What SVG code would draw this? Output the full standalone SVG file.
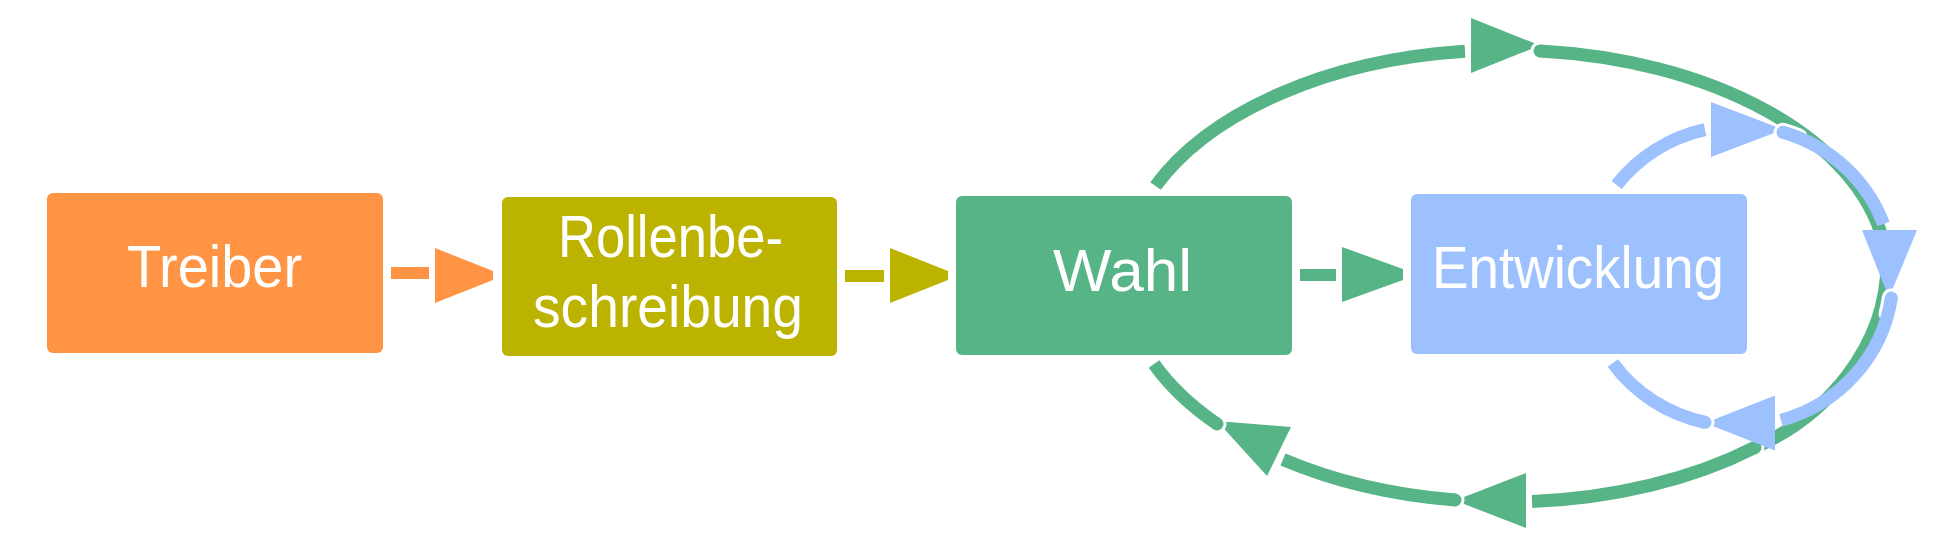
<svg xmlns="http://www.w3.org/2000/svg" width="1944" height="544" viewBox="0 0 1944 544">
<style>
.lbl{font-family:"Liberation Sans",Arial,sans-serif;font-weight:400;font-size:60px;fill:#FFFFFF;text-anchor:middle}
.g{fill:none;stroke:#56B486;stroke-width:13}
.b{fill:none;stroke:#9CC1FE;stroke-width:13}
.halo{fill:none;stroke:#FFFFFF;stroke-width:19;stroke-linecap:round;stroke-dasharray:16 3000}
.gf{fill:#56B486}
.bf{fill:#9CC1FE}
</style>
<g id="connectors">
<line x1="391" y1="273" x2="429" y2="273" stroke="#FF9544" stroke-width="12"/>
<polygon points="435,248 493,271 493,280 435,303" fill="#FF9544"/>
<line x1="845" y1="276" x2="884" y2="276" stroke="#BCB300" stroke-width="12"/>
<polygon points="890,248 948,271 948,280 890,303" fill="#BCB300"/>
<line x1="1300" y1="275" x2="1336" y2="275" stroke="#56B486" stroke-width="12"/>
<polygon class="gf" points="1342,247 1403,269 1403,280 1342,302"/>

<path class="g" d="M1155.5,186 A382,226 0 0 1 1465,51.3"/>
<polygon class="gf" points="1471,18 1540,45.5 1471,73"/>
<path class="halo" d="M1540,50.9 A382,226 0 0 1 1883,240"/>
<path class="g" d="M1540,50.9 A382,226 0 0 1 1883,240"/>
<circle class="gf" cx="1540" cy="50.9" r="6.5"/>
<path class="g" d="M1886,236 L1887,260 C1888,350 1822,418 1755,447.4"/>
<path class="halo" d="M1755,447.4 A382,226 0 0 1 1532,501.5"/>
<path class="g" d="M1755,447.4 A382,226 0 0 1 1532,501.5"/>
<circle class="gf" cx="1755" cy="447.4" r="6.5"/>
<polygon class="gf" points="1526,473 1455,500.5 1526,528"/>
<path class="halo" d="M1455,500 A382,226 0 0 1 1283,459.5"/>
<path class="g" d="M1455,500 A382,226 0 0 1 1283,459.5"/>
<circle class="gf" cx="1455" cy="500" r="6.5"/>
<polygon class="gf" points="1291,427 1217,421 1267,476"/>
<path class="halo" d="M1217,424 A382,226 0 0 1 1154,364"/>
<path class="g" d="M1217,424 A382,226 0 0 1 1154,364"/>
<circle class="gf" cx="1217" cy="424" r="6.5"/>

<path class="b" d="M1616.6,185 A154,150 0 0 1 1705,129.7"/>
<polygon class="bf" points="1711,102 1783,129.5 1711,157"/>
<path class="halo" d="M1783,132.3 A154,150 0 0 1 1883.5,224"/>
<path class="b" d="M1783,132.3 A154,150 0 0 1 1883.5,224"/>
<circle class="bf" cx="1783" cy="132.3" r="6.5"/>
<polygon class="bf" points="1862,230 1917,230 1889,298"/>
<path class="halo" d="M1891.3,298 A154,150 0 0 1 1781,420.3"/>
<path class="b" d="M1891.3,298 A154,150 0 0 1 1781,420.3"/>
<circle class="bf" cx="1891.3" cy="298" r="6.5"/>
<polygon class="bf" points="1775,395.5 1705,423 1775,450.5"/>
<path class="halo" d="M1705,422.3 A154,150 0 0 1 1612.8,363"/>
<path class="b" d="M1705,422.3 A154,150 0 0 1 1612.8,363"/>
<circle class="bf" cx="1705" cy="422.3" r="6.5"/>
</g>
<g id="treiber">
<rect x="47" y="193" width="336" height="160" rx="6" fill="#FF9544"/>
<text class="lbl" x="214.5" y="287" textLength="175" lengthAdjust="spacingAndGlyphs">Treiber</text>
</g>
<g id="rollenbeschreibung">
<rect x="502" y="197" width="335" height="159" rx="6" fill="#BCB300"/>
<text class="lbl"><tspan x="670.5" y="257" textLength="225" lengthAdjust="spacingAndGlyphs">Rollenbe-</tspan><tspan x="668" y="327" textLength="270" lengthAdjust="spacingAndGlyphs">schreibung</tspan></text>
</g>
<g id="wahl">
<rect x="956" y="196" width="336" height="159" rx="6" fill="#56B486"/>
<text class="lbl" x="1122.5" y="291" textLength="139" lengthAdjust="spacingAndGlyphs">Wahl</text>
</g>
<g id="entwicklung">
<rect x="1411" y="194" width="336" height="160" rx="6" fill="#9CC1FE"/>
<text class="lbl" x="1578" y="288" textLength="292" lengthAdjust="spacingAndGlyphs">Entwicklung</text>
</g>
</svg>
